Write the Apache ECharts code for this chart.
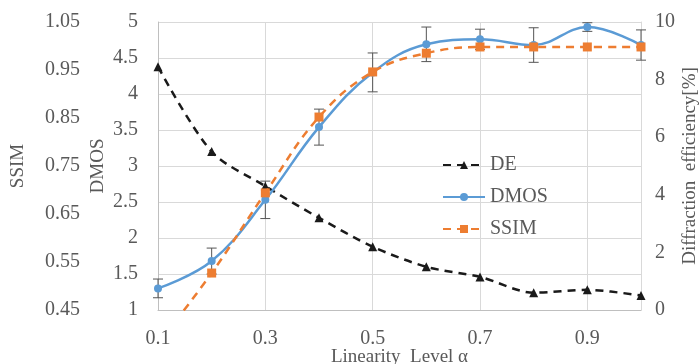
<!DOCTYPE html>
<html>
<head>
<meta charset="utf-8">
<script src="https://cdn.jsdelivr.net/npm/echarts@6/dist/echarts.min.js"></script>
<style>
  html, body { margin: 0; padding: 0; background: #fff; }
  #chart { width: 699px; height: 364px; }
</style>
</head>
<body>
<div id="chart"></div>
<script>
// x positions (linearity level)
const levels = [0.1, 0.2, 0.3, 0.4, 0.5, 0.6, 0.7, 0.8, 0.9, 1.0]
// diffraction efficiency [%]
const deValues = [8.45, 5.5, 4.3, 3.2, 2.2, 1.5, 1.15, 0.6, 0.7, 0.5]
// DMOS and its error (+/-)
const dmosValues = [1.3, 1.68, 2.53, 3.54, 4.3, 4.69, 4.76, 4.68, 4.93, 4.68]
const dmosErr = [0.13, 0.18, 0.26, 0.25, 0.27, 0.24, 0.14, 0.24, 0.06, 0.21]
// SSIM (first one falls under the axis range)
const ssimValues = [0.38, 0.527, 0.694, 0.852, 0.946, 0.985, 0.998, 0.998, 0.998, 0.998]

const font = 'Liberation Serif'
const txtColor = '#595959'

const chart = echarts.init(document.getElementById('chart'))

const pairs = arr => levels.map((x, i) => [x, arr[i]])

// error bars for DMOS
const errData = levels.map((x, i) => [x, dmosValues[i] - dmosErr[i], dmosValues[i] + dmosErr[i]])

function renderErr(params, api) {
  const lo = api.coord([api.value(0), api.value(1)])
  const hi = api.coord([api.value(0), api.value(2)])
  const cap = 5
  const style = { stroke: '#555', lineWidth: 1 }
  return {
    type: 'group',
    children: [
      { type: 'line', shape: { x1: lo[0], y1: lo[1], x2: hi[0], y2: hi[1] }, style },
      { type: 'line', shape: { x1: lo[0] - cap, y1: lo[1], x2: lo[0] + cap, y2: lo[1] }, style },
      { type: 'line', shape: { x1: hi[0] - cap, y1: hi[1], x2: hi[0] + cap, y2: hi[1] }, style }
    ]
  }
}

const nameStyle = { fontFamily: font, fontSize: 19, color: txtColor }

const option = {
  animation: false,
  textStyle: { fontFamily: font },
  grid: { left: 158, right: 58, top: 22, bottom: 54, outerBoundsMode: 'none', containLabel: false },
  legend: {
    orient: 'vertical',
    left: 437,
    top: 150,
    itemWidth: 42,
    itemHeight: 10,
    itemGap: 12,
    data: ['DE', 'DMOS', 'SSIM'],
    textStyle: { fontFamily: font, fontSize: 20, color: txtColor }
  },
  xAxis: {
    type: 'value',
    min: 0.1,
    max: 1.0,
    interval: 0.2,
    name: 'Linearity  Level α',
    nameLocation: 'middle',
    nameGap: 38,
    nameMoveOverlap: false,
    nameTextStyle: nameStyle,
    axisLine: { lineStyle: { color: '#bfbfbf' } },
    axisTick: { show: false },
    axisLabel: {
      margin: 19,
      fontFamily: font, fontSize: 20, color: txtColor,
      showMaxLabel: false,
      formatter: v => v.toFixed(1)
    },
    splitLine: { show: true, lineStyle: { color: '#d9d9d9' } }
  },
  yAxis: [
    {
      type: 'value',
      min: 1, max: 5, interval: 0.5,
      position: 'left',
      name: 'DMOS',
      nameLocation: 'middle',
      nameGap: 50,
      nameMoveOverlap: false,
      nameTextStyle: nameStyle,
      axisLine: { show: true, lineStyle: { color: '#bfbfbf' } },
      axisTick: { show: false },
      axisLabel: { margin: 20, fontFamily: font, fontSize: 20, color: txtColor },
      splitLine: { show: true, lineStyle: { color: '#d9d9d9' } }
    },
    {
      type: 'value',
      min: 0.45, max: 1.05, interval: 0.1,
      position: 'left',
      offset: 60,
      name: 'SSIM',
      nameLocation: 'middle',
      nameGap: 70,
      nameMoveOverlap: false,
      nameTextStyle: nameStyle,
      axisLine: { show: false },
      axisTick: { show: false },
      axisLabel: { margin: 18, fontFamily: font, fontSize: 20, color: txtColor, formatter: v => v.toFixed(2) },
      splitLine: { show: false }
    },
    {
      type: 'value',
      min: 0, max: 10, interval: 2,
      position: 'right',
      name: 'Diffraction  efficiency[%]',
      nameLocation: 'middle',
      nameGap: 40,
      nameRotate: 90,
      nameMoveOverlap: false,
      nameTextStyle: nameStyle,
      axisLine: { show: true, lineStyle: { color: '#d9d9d9' } },
      axisTick: { show: false },
      axisLabel: { margin: 14, fontFamily: font, fontSize: 20, color: txtColor },
      splitLine: { show: false }
    }
  ],
  series: [
    {
      name: 'DE',
      type: 'line',
      yAxisIndex: 2,
      smooth: 0.3,
      data: pairs(deValues),
      symbol: 'triangle',
      symbolSize: 9,
      itemStyle: { color: '#1a1a1a' },
      lineStyle: { color: '#1a1a1a', width: 2.5, type: [8, 6] },
      z: 3
    },
    {
      name: 'err',
      type: 'custom',
      yAxisIndex: 0,
      renderItem: renderErr,
      data: errData,
      z: 2
    },
    {
      name: 'DMOS',
      type: 'line',
      yAxisIndex: 0,
      smooth: 0.4,
      data: pairs(dmosValues),
      symbol: 'circle',
      symbolSize: 8,
      itemStyle: { color: '#5b9bd5' },
      lineStyle: { color: '#5b9bd5', width: 2.5 },
      z: 4
    },
    {
      name: 'SSIM',
      type: 'line',
      yAxisIndex: 1,
      smooth: 0.4,
      clip: true,
      data: pairs(ssimValues),
      symbol: 'rect',
      symbolSize: 9,
      itemStyle: { color: '#ed7d31' },
      lineStyle: { color: '#ed7d31', width: 2.5, type: [8, 6] },
      z: 5
    }
  ]
}

chart.setOption(option)
</script>
</body>
</html>
